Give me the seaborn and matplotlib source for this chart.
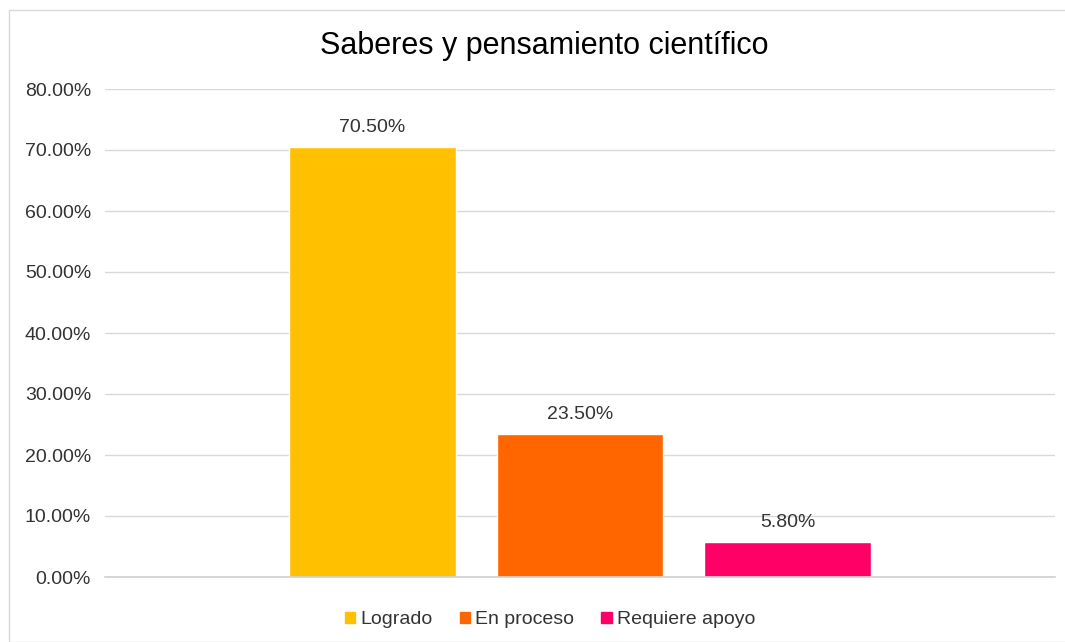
import matplotlib
matplotlib.use("Agg")
import matplotlib.pyplot as plt
import seaborn as sns
import pandas as pd
from matplotlib.ticker import PercentFormatter
from matplotlib.patches import Rectangle

# data
categories = ["Logrado", "En proceso", "Requiere apoyo"]
values = [0.705, 0.235, 0.058]
colors = ["#FFC000", "#FF6600", "#FF0066"]
title = "Saberes y pensamiento científico"

sns.set_style("white")
plt.rcParams["font.family"] = ["Liberation Sans", "DejaVu Sans"]

df = pd.DataFrame({"nivel": categories, "pct": values})

fig = plt.figure(figsize=(10.65, 6.42), dpi=100)
ax = fig.add_axes([105 / 1065, 1 - 577 / 642, 950 / 1065, (577 - 89) / 642])

sns.barplot(data=df, x="nivel", y="pct", hue="nivel", palette=colors,
            width=0.805, legend=False, ax=ax, saturation=1)

# value labels
for cont in ax.containers:
    ax.bar_label(cont, labels=[f"{v * 100:.2f}%" for v in cont.datavalues],
                 padding=8, fontsize=14, color="#333333")

ax.set_ylim(0, 0.8)
ax.set_xlim(-1.29, 3.29)
ax.set_yticks([i / 10 for i in range(9)])
ax.yaxis.set_major_formatter(PercentFormatter(1, decimals=2))
ax.tick_params(axis="y", labelsize=14, labelcolor="#333333", length=0, pad=10)
ax.set_xticks([])
ax.set_xlabel("")
ax.set_ylabel("")
ax.grid(axis="y", color="#D9D9D9", linewidth=1)
ax.set_axisbelow(True)
for side in ["left", "right", "top"]:
    ax.spines[side].set_visible(False)
ax.spines["bottom"].set_color("#D0D0D0")
ax.spines["bottom"].set_linewidth(1.2)

# legend below the plot
handles = [Rectangle((0, 0), 1, 1, color=c) for c in colors]
fig.legend(handles, categories, loc="center", bbox_to_anchor=(550 / 1065, 1 - 620 / 642),
           ncol=3, frameon=False, fontsize=14, handlelength=0.55, handleheight=0.55,
           handletextpad=0.25, columnspacing=1.4, labelcolor="#333333")

fig.text(544 / 1065, 1 - 46 / 642, title, ha="center", va="center", fontsize=22, color="#000000")

# light chart border
fig.patches.append(Rectangle((9 / 1065, 0), 1.2, 1 - 10 / 642, transform=fig.transFigure,
                             fill=False, edgecolor="#D9D9D9", linewidth=1))

fig.savefig("out.png", dpi=100)
